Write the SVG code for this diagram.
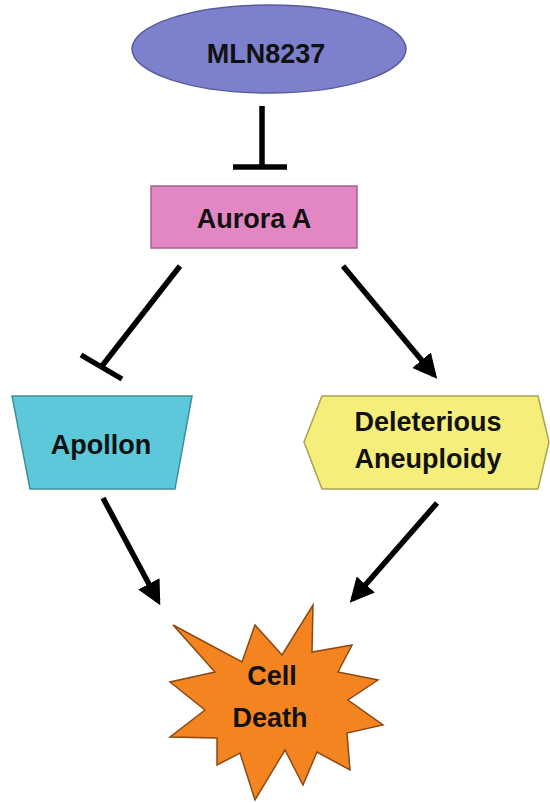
<svg xmlns="http://www.w3.org/2000/svg" width="550" height="803" viewBox="0 0 550 803">
<style>
.lbl{font-family:"Liberation Sans",Arial,sans-serif;font-weight:bold;font-size:27px;fill:#111;text-anchor:middle}
.ln{stroke:#000;stroke-width:5.5;fill:none}
.node{stroke-width:1.5}
</style>
<defs>
<marker id="ah" viewBox="0 0 10 10" refX="8" refY="5" markerWidth="4.4" markerHeight="4.4" markerUnits="strokeWidth" orient="auto">
<path d="M0,0 L10,5 L0,10 z" fill="#000"/>
</marker>
</defs>
<rect width="550" height="803" fill="#fff"/>
<g id="connectors">
<line class="ln" x1="262" y1="106" x2="262" y2="167"/>
<line class="ln" x1="233" y1="167" x2="287" y2="167"/>
<line class="ln" x1="180" y1="266" x2="102" y2="366"/>
<line class="ln" x1="81" y1="355" x2="122" y2="379"/>
<line class="ln" x1="343" y1="266" x2="434" y2="375" marker-end="url(#ah)"/>
<line class="ln" x1="103" y1="498" x2="158" y2="601" marker-end="url(#ah)"/>
<line class="ln" x1="437" y1="503" x2="353" y2="599" marker-end="url(#ah)"/>
</g>
<g id="mln8237">
<ellipse class="node" cx="269" cy="49" rx="137" ry="44" fill="#7D80CC" stroke="#5A5C9E"/>
<text class="lbl" x="266" y="63">MLN8237</text>
</g>
<g id="aurora-a">
<rect class="node" x="151" y="186" width="206" height="62" fill="#E387C4" stroke="#A8608F"/>
<text class="lbl" x="254" y="228">Aurora A</text>
</g>
<g id="apollon">
<path class="node" d="M12,396 L192,396 L175,489 L30,489 Z" fill="#5CC8DA" stroke="#3E8F9C"/>
<text class="lbl" x="101" y="454">Apollon</text>
</g>
<g id="aneuploidy">
<path class="node" d="M304,442 L322,396 L538,396 L549,442 L538,489 L322,489 Z" fill="#F5EE7A" stroke="#A9A350"/>
<text class="lbl" x="428" y="431">Deleterious</text>
<text class="lbl" x="428" y="468">Aneuploidy</text>
</g>
<g id="cell-death">
<path class="node" d="M173,625 L242,662 L255,625 L282,655 L313,605 L312,652 L352,645 L338,672 L378,680 L348,700 L383,725 L347,733 L350,770 L317,752 L303,785 L285,750 L255,800 L240,753 L217,765 L217,738 L170,737 L205,710 L170,682 L215,672 Z" fill="#F4841F" stroke="#8A4A14"/>
<text class="lbl" x="272" y="685">Cell</text>
<text class="lbl" x="270" y="727">Death</text>
</g>
</svg>
